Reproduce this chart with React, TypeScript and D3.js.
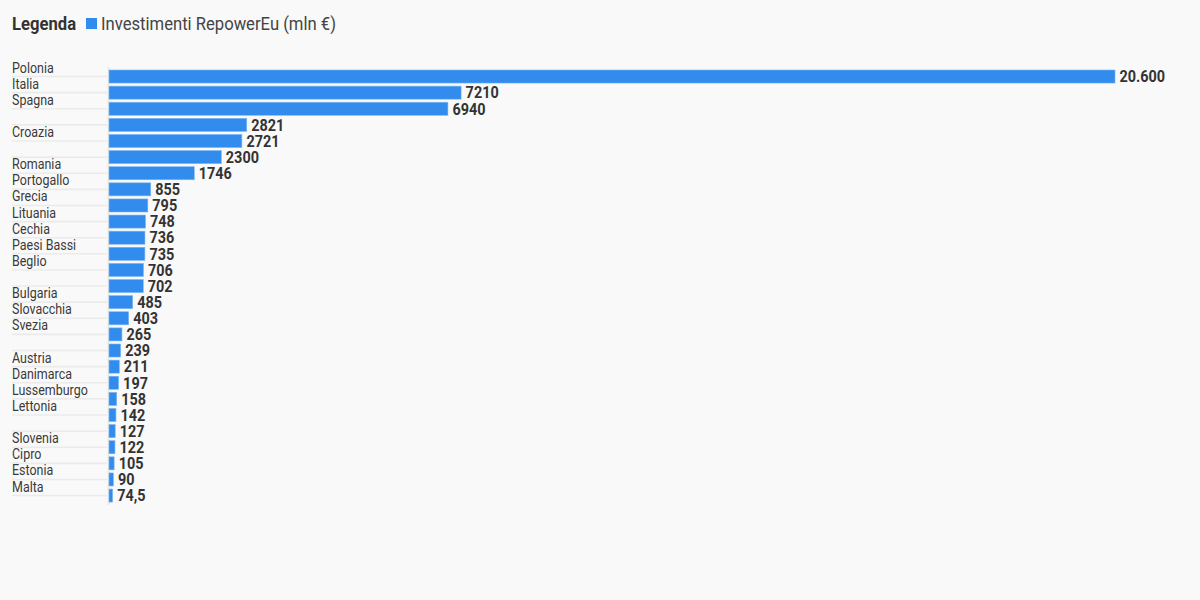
import * as React from 'react'
import * as d3 from 'd3'

// values, top to bottom
const countries = [
    'Polonia', 'Italia', 'Spagna', '', 'Croazia', '', 'Romania', 'Portogallo',
    'Grecia', 'Lituania', 'Cechia', 'Paesi Bassi', 'Beglio', '', 'Bulgaria',
    'Slovacchia', 'Svezia', '', 'Austria', 'Danimarca', 'Lussemburgo', 'Lettonia',
    '', 'Slovenia', 'Cipro', 'Estonia', 'Malta',
]
const investments = [
    20600, 7210, 6940, 2821, 2721, 2300, 1746, 855, 795, 748, 736, 735, 706, 702,
    485, 403, 265, 239, 211, 197, 158, 142, 127, 122, 105, 90, 74.5,
]
const seriesName = 'Investimenti RepowerEu (mln €)'

const W = 1200
const H = 600
const BLUE = '#318ced'
const INK = '#333333'
const FONT = 'Roboto, sans-serif'

const fmt = (v: number) => {
    if (v >= 10000) return d3.format(',')(v).replace(/,/g, '.')
    return String(v).replace('.', ',')
}

const App = () => {
    const rows = investments.map((v, i) => ({ key: i, name: countries[i], value: v }))

    const x = d3.scaleLinear().domain([0, d3.max(investments) as number]).range([109, 1115])
    const y = d3.scaleBand<number>()
        .domain(rows.map(d => d.key))
        .range([70, 502.1])
        .paddingInner(0.19)
        .paddingOuter(0)

    return <svg width={W} height={H} style={{ display: 'block', position: 'absolute', left: 0, top: 0, background: '#f9f9f9' }}>
        <rect width={W} height={H} fill='#f9f9f9' />

        {/* legend */}
        <g fontFamily={FONT} fill={INK}>
            <text transform='translate(12, 30) scale(0.9, 1)' fontSize={18.5} fontWeight={700}>Legenda</text>
            <rect x={86} y={18} width={11} height={11} fill={BLUE} />
            <text transform='translate(101, 30) scale(0.9, 1)' fontSize={18.5} fill='#444'>{seriesName}</text>
        </g>

        {/* row separators + category names */}
        <g fontFamily={FONT}>
            {rows.map(d => {
                const cy = (y(d.key) as number) + y.bandwidth() / 2
                return <g key={d.key}>
                    <line x1={12} x2={107} y1={cy} y2={cy} stroke='#ebebeb' strokeWidth={1.6} />
                    {d.name && <text transform={`translate(12, ${cy - 4}) scale(0.89, 1)`} fontSize={14} fill='#3a3a3a'>{d.name}</text>}
                </g>
            })}
        </g>

        <line x1={108.5} x2={108.5} y1={67} y2={505} stroke='#e6e6e6' strokeWidth={1.5} />

        {/* bars */}
        <g>
            {rows.map(d => (
                <rect
                    key={d.key}
                    x={x(0)}
                    y={y(d.key)}
                    width={x(d.value) - x(0)}
                    height={y.bandwidth()}
                    fill={BLUE}
                    stroke='#7fb6f2'
                    strokeWidth={0.6}
                />
            ))}
        </g>

        {/* value labels */}
        <g fontFamily={FONT} fontWeight={700} fill={INK}>
            {rows.map(d => {
                const cy = (y(d.key) as number) + y.bandwidth() / 2
                return <text key={d.key} transform={`translate(${x(d.value) + 4.5}, ${cy + 5.8}) scale(0.875, 1)`} fontSize={16.5}>{fmt(d.value)}</text>
            })}
        </g>
    </svg>
}

export default App
